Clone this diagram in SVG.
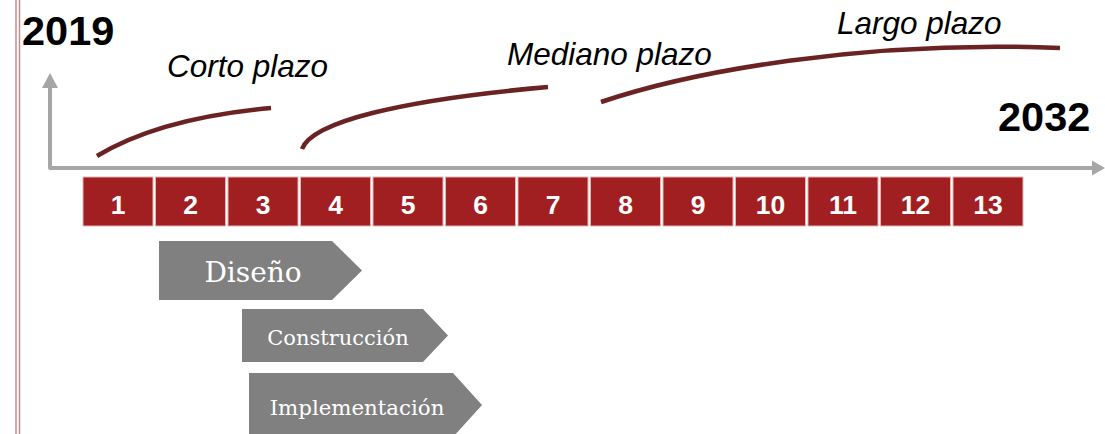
<svg xmlns="http://www.w3.org/2000/svg" width="1105" height="434" viewBox="0 0 1105 434">
<defs>
<style>
.border{stroke:#c38c8c;stroke-width:1.5;fill:none}
.axis{stroke:#a6a6a6;stroke-width:4;fill:none;stroke-linejoin:round}
.axhead{fill:#a6a6a6}
.curve{stroke:#6b2222;stroke-width:4.5;fill:none;stroke-linecap:butt}
.year{font-family:"Liberation Sans",Arial,sans-serif;font-weight:bold;font-size:41.5px;fill:#000}
.term{font-family:"Liberation Sans",Arial,sans-serif;font-style:italic;font-size:31.5px;fill:#000}
.box{fill:#a21f21;stroke:#e6b3b3;stroke-width:1}
.num{font-family:"Liberation Sans",Arial,sans-serif;font-weight:bold;font-size:26.5px;fill:#fff;text-anchor:middle}
.phase{fill:#808080}
.ptext{font-family:"DejaVu Serif","Liberation Serif",serif;fill:#fff;text-anchor:middle}
</style>
</defs>
<rect width="1105" height="434" fill="#fff"/>
<line class="border" x1="16" y1="0" x2="16" y2="434"/>
<line class="border" x1="19.5" y1="0" x2="19.5" y2="434"/>

<g id="connectors">
<polyline class="axis" points="50,86 50,168 1094,168"/>
<polygon class="axhead" points="50,73 58,88 42,88"/>
<polygon class="axhead" points="1105,168 1092,160.5 1092,175.5"/>
<path class="curve" d="M97,156 Q160,118 271,108"/>
<path class="curve" d="M302,149 C312,122 400,100 548,87"/>
<path class="curve" d="M601,102 C690,72 860,40 1060,48"/>
</g>

<g id="labels">
<text class="year" x="22" y="45">2019</text>
<text class="year" x="998" y="131">2032</text>
<text class="term" x="167" y="77">Corto plazo</text>
<text class="term" x="507" y="65">Mediano plazo</text>
<text class="term" x="837" y="34">Largo plazo</text>
</g>

<g id="timeline">
<g id="y1"><rect class="box" x="83" y="177" width="70" height="49"/><text class="num" x="118" y="214">1</text></g>
<g id="y2"><rect class="box" x="155.5" y="177" width="70" height="49"/><text class="num" x="190.5" y="214">2</text></g>
<g id="y3"><rect class="box" x="228" y="177" width="70" height="49"/><text class="num" x="263" y="214">3</text></g>
<g id="y4"><rect class="box" x="300.5" y="177" width="70" height="49"/><text class="num" x="335.5" y="214">4</text></g>
<g id="y5"><rect class="box" x="373" y="177" width="70" height="49"/><text class="num" x="408" y="214">5</text></g>
<g id="y6"><rect class="box" x="445.5" y="177" width="70" height="49"/><text class="num" x="480.5" y="214">6</text></g>
<g id="y7"><rect class="box" x="518" y="177" width="70" height="49"/><text class="num" x="553" y="214">7</text></g>
<g id="y8"><rect class="box" x="590.5" y="177" width="70" height="49"/><text class="num" x="625.5" y="214">8</text></g>
<g id="y9"><rect class="box" x="663" y="177" width="70" height="49"/><text class="num" x="698" y="214">9</text></g>
<g id="y10"><rect class="box" x="735.5" y="177" width="70" height="49"/><text class="num" x="770.5" y="214">10</text></g>
<g id="y11"><rect class="box" x="808" y="177" width="70" height="49"/><text class="num" x="843" y="214">11</text></g>
<g id="y12"><rect class="box" x="880.5" y="177" width="70" height="49"/><text class="num" x="915.5" y="214">12</text></g>
<g id="y13"><rect class="box" x="953" y="177" width="70" height="49"/><text class="num" x="988" y="214">13</text></g>
</g>

<g id="diseno">
<polygon class="phase" points="159,241 332,241 362,270.5 332,300 159,300"/>
<text class="ptext" x="253" y="282" font-size="28">Diseño</text>
</g>
<g id="construccion">
<polygon class="phase" points="242,309 423,309 448,335.5 423,362 242,362"/>
<text class="ptext" x="338" y="345" font-size="21">Construcción</text>
</g>
<g id="implementacion">
<polygon class="phase" points="249,373 453,373 482,405 453,437 249,437"/>
<text class="ptext" x="357" y="415" font-size="21.3">Implementación</text>
</g>
</svg>
